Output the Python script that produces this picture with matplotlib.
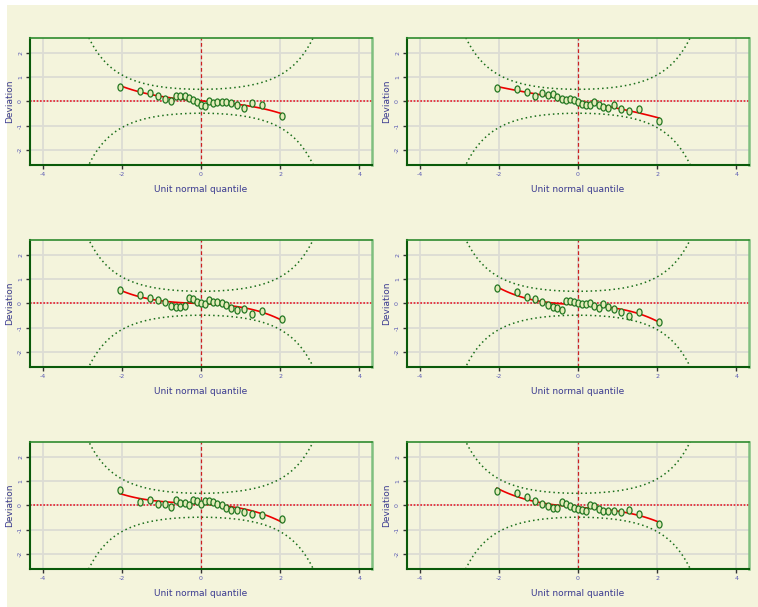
import numpy as np
import matplotlib.pyplot as plt
from matplotlib.patches import Rectangle
from matplotlib.path import Path
from math import erf

# unit normal quantiles of the 25 residuals (same in every panel)
z_vals = [-2.05, -1.55, -1.28, -1.08, -0.92, -0.77, -0.64, -0.52, -0.41, -0.31,
          -0.20, -0.10, 0.00, 0.10, 0.20, 0.31, 0.41, 0.52, 0.64, 0.77,
          0.92, 1.08, 1.28, 1.55, 2.05]

# deviations
dev_1 = [0.59, 0.44, 0.34, 0.23, 0.10, 0.00, 0.23, 0.21, 0.21, 0.14,
         0.04, -0.04, -0.14, -0.18, 0.00, -0.07, -0.04, -0.04, -0.04, -0.07,
         -0.14, -0.27, -0.07, -0.16, -0.62]
dev_2 = [0.55, 0.52, 0.38, 0.21, 0.32, 0.25, 0.29, 0.16, 0.10, 0.07,
         0.10, 0.04, -0.04, -0.11, -0.16, -0.16, -0.03, -0.14, -0.23, -0.27,
         -0.16, -0.32, -0.38, -0.30, -0.80]
dev_3 = [0.55, 0.34, 0.21, 0.14, 0.04, -0.10, -0.16, -0.14, -0.11, 0.23,
         0.16, 0.07, 0.00, -0.03, 0.14, 0.04, 0.04, 0.00, -0.07, -0.21,
         -0.27, -0.25, -0.44, -0.30, -0.64]
dev_4 = [0.62, 0.48, 0.25, 0.16, 0.04, -0.07, -0.14, -0.18, -0.27, 0.11,
         0.11, 0.04, 0.00, -0.03, -0.04, 0.00, -0.10, -0.21, -0.03, -0.14,
         -0.23, -0.34, -0.51, -0.34, -0.75]
dev_5 = [0.62, 0.14, 0.21, 0.07, 0.07, -0.07, 0.21, 0.11, 0.11, 0.00,
         0.21, 0.16, 0.07, 0.18, 0.16, 0.14, 0.07, 0.00, -0.10, -0.18,
         -0.18, -0.27, -0.34, -0.38, -0.58]
dev_6 = [0.59, 0.52, 0.34, 0.18, 0.07, -0.03, -0.10, -0.10, 0.14, 0.07,
         -0.03, -0.10, -0.16, -0.21, -0.23, 0.03, -0.03, -0.14, -0.25, -0.25,
         -0.23, -0.27, -0.21, -0.34, -0.78]

panels = [dev_1, dev_2, dev_3, dev_4, dev_5, dev_6]
x_ticks = [-4, -2, 0, 2, 4]
y_ticks = [-2, -1, 0, 1, 2]

bg = '#f4f4dc'
W, H = 758, 607
fig = plt.figure(figsize=(W / 100, H / 100), dpi=100, facecolor='white')
fig.patches.append(Rectangle((7 / W, 0), 1, (H - 5) / H, transform=fig.transFigure,
                             facecolor=bg, edgecolor='none', zorder=-10))

# tall oval marker like the R symbols
circ = Path.unit_circle()
oval = Path(circ.vertices * np.array([0.72, 1.0]), circ.codes)

# 95% worm plot bands for n points
n = len(z_vals)
zz = np.linspace(-4.3, 4.3, 400)
pp = np.array([0.5 * (1 + erf(v / np.sqrt(2))) for v in zz])
dens = np.exp(-zz ** 2 / 2) / np.sqrt(2 * np.pi)
band = 1.96 * np.sqrt(pp * (1 - pp) / n) / dens

lefts = [30, 407]
tops = [38, 240, 442]
aw, ah = 342, 127

for i, dev in enumerate(panels):
    r, c = divmod(i, 2)
    ax = fig.add_axes([lefts[c] / W, 1 - (tops[r] + ah) / H, aw / W, ah / H])
    ax.set_facecolor(bg)
    ax.set_xlim(-4.32, 4.32)
    ax.set_ylim(-2.62, 2.6)
    ax.set_xticks(x_ticks)
    ax.set_yticks(y_ticks)
    ax.set_xticklabels([str(t) for t in x_ticks])
    ax.set_yticklabels([str(t) for t in y_ticks], rotation=90, va='center')
    ax.grid(True, color='#dcdcd4', lw=1.3, zorder=0)
    ax.tick_params(labelsize=4.5, labelcolor='#5a5ab4', length=3, width=1,
                   color='#333333', pad=2)

    ax.plot(zz, band, color='#1a6e1a', ls=(0, (1, 2)), lw=1.1, zorder=2)
    ax.plot(zz, -band, color='#1a6e1a', ls=(0, (1, 2)), lw=1.1, zorder=2)
    ax.axhline(0, color='#e8202a', ls=(0, (1, 1)), lw=1.2, zorder=2)
    ax.axvline(0, color='#cc2020', ls=(0, (3, 2)), lw=0.9, zorder=2)

    coef = np.polyfit(z_vals, dev, 3)
    xf = np.linspace(min(z_vals), max(z_vals), 100)
    ax.plot(xf, np.polyval(coef, xf), color='#ee0000', lw=1.2, zorder=3)
    ax.scatter(z_vals, dev, s=26, marker=oval, facecolor='#e4ebb8',
               edgecolor='#227722', lw=0.9, zorder=4)

    ax.set_xlabel('Unit normal quantile', fontsize=6.5, color='#3a3a90', labelpad=6)
    ax.set_ylabel('Deviation', fontsize=6.5, color='#3a3a90', labelpad=3)

    ax.spines['left'].set_color('#0a5a0a')
    ax.spines['bottom'].set_color('#0a5a0a')
    ax.spines['left'].set_linewidth(1.5)
    ax.spines['bottom'].set_linewidth(1.5)
    ax.spines['top'].set_color('#2e8b2e')
    ax.spines['top'].set_linewidth(1.2)
    ax.spines['right'].set_color('#7fbf7f')
    ax.spines['right'].set_linewidth(1.8)

fig.savefig('out.png', dpi=100, facecolor=fig.get_facecolor())
